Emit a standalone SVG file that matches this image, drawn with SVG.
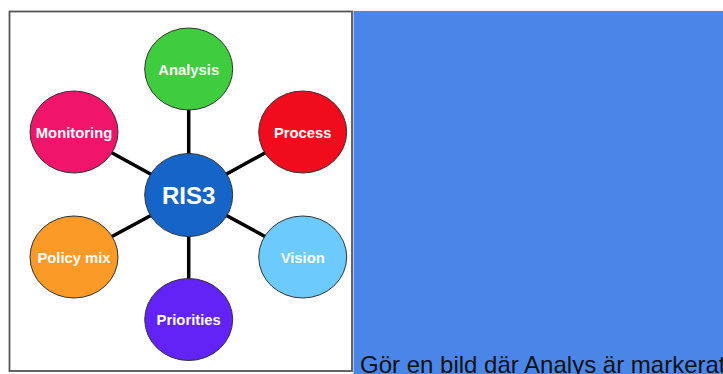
<svg xmlns="http://www.w3.org/2000/svg" width="723" height="374" viewBox="0 0 723 374">
<style>
.n ellipse{stroke:#333;stroke-width:1}
.n text{fill:#fff;font-family:"Liberation Sans",Arial,sans-serif;font-weight:bold;font-size:14.8px;text-anchor:middle}
.c line{stroke:#000;stroke-width:3.5}
</style>
<rect x="0" y="0" width="723" height="374" fill="#fff"/>
<rect x="353.5" y="11" width="370" height="363" fill="#4a86e8"/>
<rect x="9.5" y="11.5" width="342.5" height="359.5" fill="#fff" stroke="#555" stroke-width="1.8"/>
<g id="connectors" class="c">
<line x1="188.7" y1="195" x2="188.7" y2="69"/>
<line x1="188.7" y1="195" x2="188.7" y2="319"/>
<line x1="188.7" y1="195" x2="74" y2="132"/>
<line x1="188.7" y1="195" x2="302.7" y2="132"/>
<line x1="188.7" y1="195" x2="74" y2="257"/>
<line x1="188.7" y1="195" x2="302.7" y2="257"/>
</g>
<g id="analysis" class="n"><ellipse cx="188.7" cy="69" rx="44" ry="41" fill="#3fcc3f"/><text x="188.7" y="74.5">Analysis</text></g>
<g id="monitoring" class="n"><ellipse cx="74" cy="132" rx="44" ry="41" fill="#f0146a"/><text x="74" y="137.5">Monitoring</text></g>
<g id="process" class="n"><ellipse cx="302.7" cy="132" rx="44" ry="41" fill="#f00c1c"/><text x="302.7" y="137.5">Process</text></g>
<g id="ris3" class="n"><ellipse cx="188.7" cy="195" rx="44" ry="41.5" fill="#1565c8"/><text x="188.7" y="203.5" style="font-size:24px">RIS3</text></g>
<g id="policymix" class="n"><ellipse cx="74" cy="257" rx="44" ry="41" fill="#fb9a26"/><text x="74" y="262.5">Policy mix</text></g>
<g id="vision" class="n"><ellipse cx="302.7" cy="257" rx="44" ry="41" fill="#6ccbfc"/><text x="302.7" y="262.5">Vision</text></g>
<g id="priorities" class="n"><ellipse cx="188.7" cy="319.5" rx="44" ry="41" fill="#6323f6"/><text x="188.7" y="325">Priorities</text></g>
<text x="360" y="372.5" font-family="'Liberation Sans',Arial,sans-serif" font-size="24" fill="#111">Gör en bild där Analys är markerat</text>
</svg>
